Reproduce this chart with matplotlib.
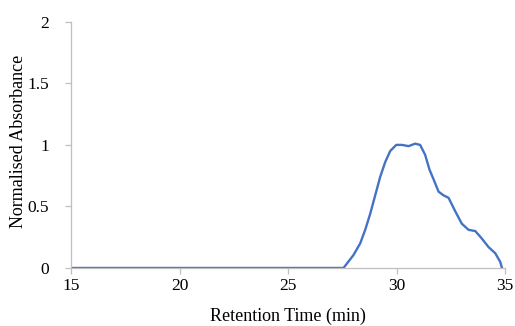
import matplotlib
matplotlib.use('Agg')
import matplotlib.pyplot as plt

# Retention time (min) and normalised absorbance
time = [15.0, 20.0, 25.0, 27.55, 28.01, 28.32, 28.55, 28.78, 29.01, 29.24, 29.47,
        29.70, 29.98, 30.24, 30.55, 30.85, 31.08, 31.31, 31.51, 31.70, 31.93,
        32.16, 32.39, 32.70, 33.00, 33.31, 33.62, 33.92, 34.23, 34.54, 34.77, 34.85]
absorb = [0.0, 0.0, 0.0, 0.0, 0.105, 0.20, 0.31, 0.44, 0.59, 0.74, 0.86,
          0.95, 1.0, 1.0, 0.99, 1.01, 1.0, 0.92, 0.80, 0.72, 0.62,
          0.59, 0.57, 0.46, 0.36, 0.31, 0.30, 0.24, 0.17, 0.12, 0.05, 0.0]

plt.rcParams['font.family'] = ['Liberation Serif', 'DejaVu Serif']

fig = plt.figure(figsize=(5.15, 3.26), dpi=100)
ax = fig.add_axes([0.138, 0.178, 0.843, 0.755])

ax.plot(time, absorb, color='#4472C4', linewidth=1.7)

ax.set_xlim(15, 35)
ax.set_ylim(0, 2)
ax.set_xticks([15, 20, 25, 30, 35])
ax.set_yticks([0, 0.5, 1, 1.5, 2])
ax.set_yticklabels(['0', '0.5', '1', '1.5', '2'])

for s in ['top', 'right']:
    ax.spines[s].set_visible(False)
for s in ['left', 'bottom']:
    ax.spines[s].set_color('#BFBFBF')
    ax.spines[s].set_linewidth(0.9)
ax.tick_params(axis='both', colors='#BFBFBF', labelcolor='black',
               labelsize=12.5, length=4, width=0.9)
ax.tick_params(axis='x', pad=3)
ax.tick_params(axis='y', pad=12)

ax.set_xlabel('Retention Time (min)', fontsize=13)
ax.set_ylabel('Normalised Absorbance', fontsize=13)
ax.xaxis.set_label_coords(0.5, -0.163)
ax.yaxis.set_label_coords(-0.101, 0.516)

fig.savefig('out.png', dpi=100)
